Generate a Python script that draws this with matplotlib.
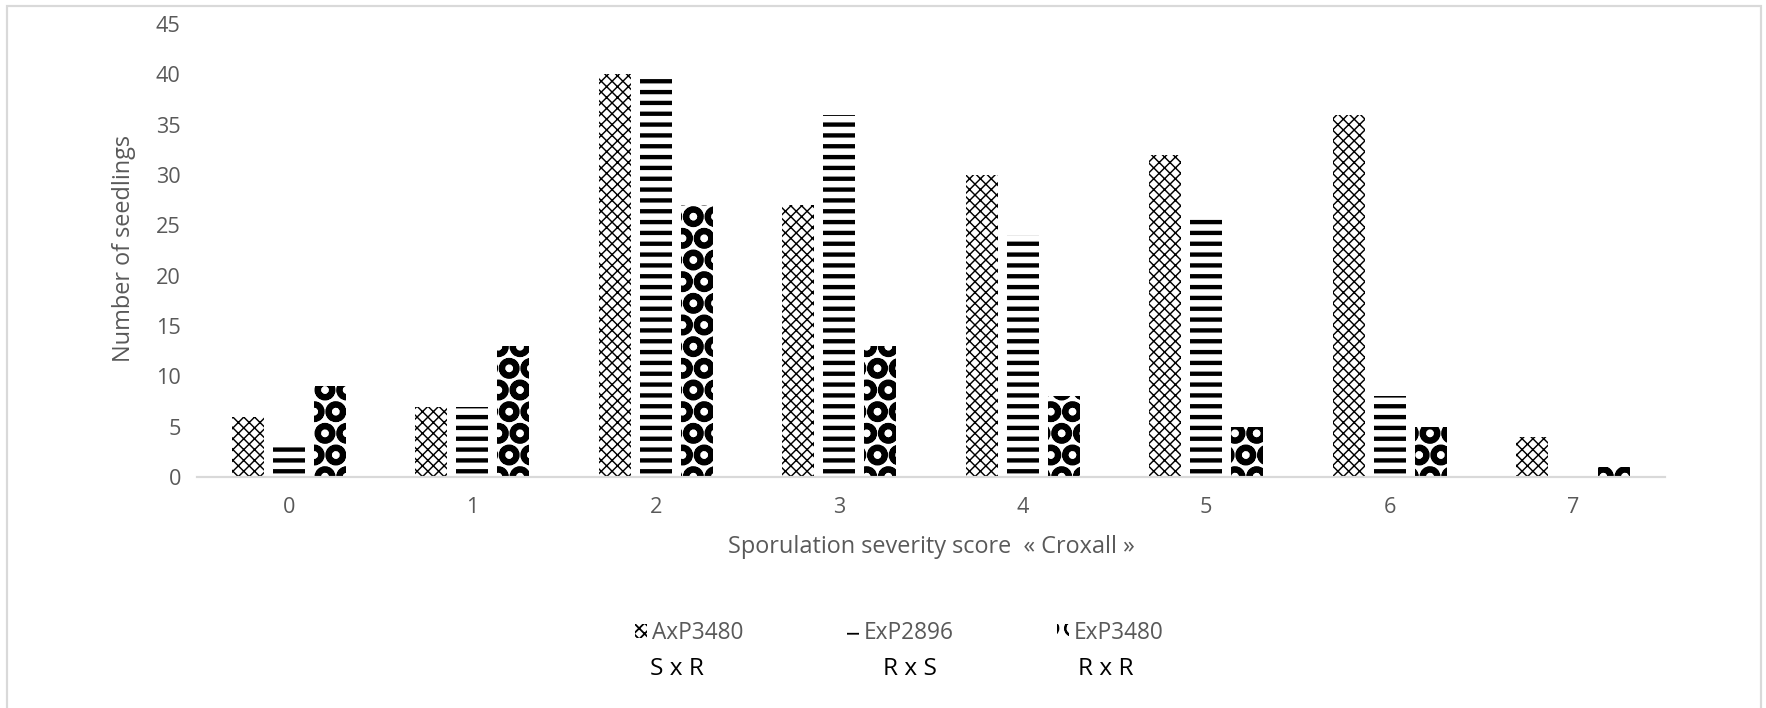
import matplotlib.pyplot as plt
import numpy as np
from matplotlib.patches import Rectangle, Patch

# values
scores = [0, 1, 2, 3, 4, 5, 6, 7]
axp3480 = [6, 7, 40, 27, 30, 32, 36, 4]
exp2896 = [3, 7, 40, 36, 24, 26, 8, 0]
exp3480 = [9, 13, 27, 13, 8, 5, 5, 1]
series_names = ['AxP3480', 'ExP2896', 'ExP3480']
cross_labels = ['S x R', 'R x S', 'R x R']

W, H, DPI = 1766, 708, 130
GRAY = '#595959'
plt.rcParams['font.family'] = ['Open Sans', 'DejaVu Sans']

fig = plt.figure(figsize=(W / DPI, H / DPI), dpi=DPI)
ax = fig.add_axes([197 / W, 1 - 477 / H, (1665 - 197) / W, (477 - 24) / H])

x = np.arange(len(scores))
width = 0.174
step = 0.223
# hatch, hatch linewidth (pt)
styles = [('xxxx', 0.8), ('--', 2.4), ('O', 3.2)]

handles = []
for i, (vals, (hatch, hlw)) in enumerate(zip([axp3480, exp2896, exp3480], styles)):
    with plt.rc_context({'hatch.linewidth': hlw}):
        bc = ax.bar(x + (i - 1) * step, vals, width, color='white',
                    edgecolor='black', linewidth=0, hatch=hatch)
        h = Patch(facecolor='white', edgecolor='black', linewidth=0, hatch=hatch)
    for p in list(bc) + [h]:
        if hasattr(p, 'set_hatch_linewidth'):
            p.set_hatch_linewidth(hlw)
    handles.append(h)

ax.set_xlim(-0.5, 7.5)
ax.set_ylim(0, 45)
ax.set_yticks(range(0, 46, 5))
ax.set_xticks(x, [str(s) for s in scores])
for s in ['top', 'right', 'left']:
    ax.spines[s].set_visible(False)
ax.spines['bottom'].set_color('#d9d9d9')
ax.spines['bottom'].set_linewidth(1.2)
ax.tick_params(length=0, labelcolor=GRAY, labelsize=12)
ax.tick_params(axis='y', pad=9)
ax.tick_params(axis='x', pad=11)

ax.set_xlabel('Sporulation severity score  « Croxall »', color=GRAY, fontsize=13)
ax.xaxis.label.set_va('center')
ax.xaxis.set_label_coords(0.5, -(547 - 477) / (477 - 24))

fig.text(124 / W, 1 - 248 / H, 'Number of seedlings', rotation=90, color=GRAY,
         fontsize=13, ha='center', va='center')

# legend entries, one per series
leg_x = [635, 847, 1057]
for h, name, lx in zip(handles, series_names, leg_x):
    fig.legend([h], [name], loc='center left', bbox_to_anchor=(lx / W, 1 - 633 / H),
               frameon=False, fontsize=12.5, handlelength=0.55, handleheight=0.6,
               handletextpad=0.2, borderpad=0, borderaxespad=0, labelcolor=GRAY)

for lab, cx in zip(cross_labels, [677, 910, 1106]):
    fig.text(cx / W, 1 - 669 / H, lab, fontsize=13.5, color='black', ha='center', va='center')

fig.add_artist(Rectangle((7 / W, -0.01), 1754 / W, 1 - 6 / H + 0.01, transform=fig.transFigure,
                         fill=False, edgecolor='#d9d9d9', linewidth=1.2))

fig.savefig('out.png', dpi=DPI)
